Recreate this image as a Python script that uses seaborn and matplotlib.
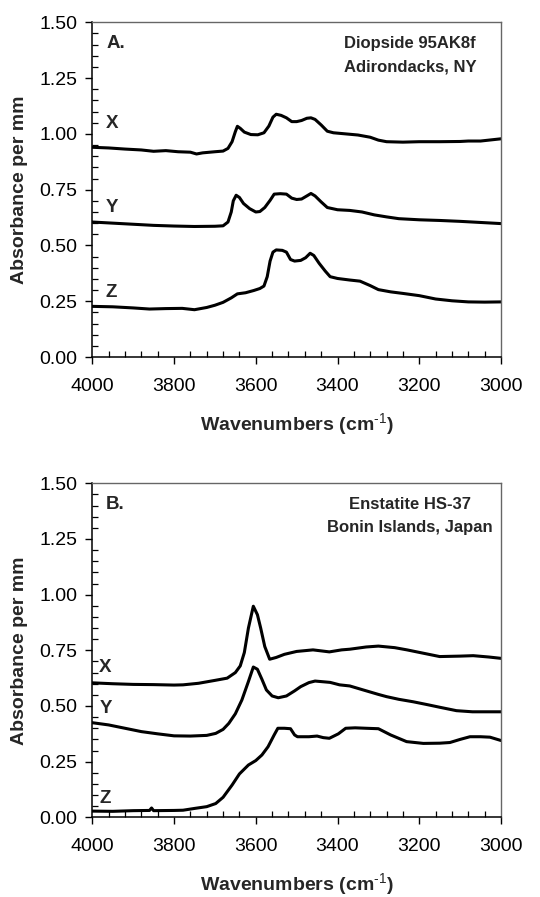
import matplotlib
matplotlib.use("Agg")
import matplotlib.pyplot as plt
from matplotlib.ticker import MultipleLocator, FormatStrFormatter
import seaborn as sns
import pandas as pd

# ---- Panel A: Diopside 95AK8f, polarized spectra ----
a_x_wn = [4000, 3960, 3920, 3880, 3850, 3820, 3790, 3760, 3745, 3730, 3700, 3680,
          3668, 3658, 3650, 3645, 3638, 3628, 3612, 3595, 3580, 3568, 3558, 3550,
          3538, 3525, 3512, 3500, 3488, 3475, 3465, 3455, 3440, 3425, 3410, 3380,
          3350, 3320, 3300, 3280, 3240, 3200, 3150, 3100, 3080, 3050, 3000]
a_x_abs = [0.940, 0.937, 0.932, 0.928, 0.922, 0.925, 0.920, 0.918, 0.910, 0.915, 0.920, 0.923,
           0.935, 0.965, 1.010, 1.034, 1.025, 1.008, 0.997, 0.996, 1.005, 1.035, 1.075, 1.088,
           1.083, 1.072, 1.055, 1.055, 1.060, 1.070, 1.072, 1.065, 1.040, 1.012, 1.005, 1.000,
           0.995, 0.985, 0.972, 0.965, 0.963, 0.965, 0.965, 0.966, 0.968, 0.968, 0.978]

a_y_wn = [4000, 3950, 3900, 3850, 3800, 3750, 3700, 3680, 3668, 3660, 3655, 3648,
          3640, 3630, 3615, 3600, 3590, 3578, 3565, 3555, 3540, 3525, 3512, 3500,
          3488, 3475, 3465, 3455, 3440, 3425, 3400, 3370, 3340, 3310, 3280, 3250,
          3200, 3150, 3100, 3050, 3000]
a_y_abs = [0.605, 0.600, 0.595, 0.590, 0.587, 0.585, 0.586, 0.588, 0.605, 0.650, 0.700, 0.725,
           0.715, 0.688, 0.665, 0.650, 0.652, 0.670, 0.702, 0.730, 0.732, 0.730, 0.712, 0.706,
           0.708, 0.722, 0.733, 0.722, 0.695, 0.670, 0.660, 0.657, 0.650, 0.637, 0.628, 0.620,
           0.615, 0.612, 0.608, 0.603, 0.598]

a_z_wn = [4000, 3950, 3900, 3860, 3820, 3780, 3750, 3720, 3700, 3680, 3660, 3645,
          3625, 3605, 3590, 3580, 3572, 3565, 3558, 3550, 3535, 3525, 3515, 3505,
          3490, 3478, 3467, 3458, 3445, 3430, 3418, 3400, 3370, 3345, 3320, 3300,
          3270, 3240, 3200, 3160, 3120, 3080, 3040, 3000]
a_z_abs = [0.227, 0.225, 0.220, 0.215, 0.217, 0.218, 0.212, 0.222, 0.232, 0.245, 0.265, 0.283,
           0.288, 0.298, 0.307, 0.318, 0.360, 0.430, 0.470, 0.480, 0.478, 0.470, 0.437, 0.430,
           0.433, 0.445, 0.465, 0.455, 0.420, 0.385, 0.360, 0.352, 0.345, 0.340, 0.320, 0.302,
           0.292, 0.285, 0.275, 0.260, 0.252, 0.247, 0.246, 0.247]

# ---- Panel B: Enstatite HS-37, polarized spectra ----
b_x_wn = [4000, 3950, 3900, 3850, 3800, 3778, 3740, 3700, 3670, 3650, 3638, 3628,
          3618, 3606, 3596, 3588, 3578, 3566, 3550, 3530, 3500, 3460, 3420, 3390,
          3370, 3330, 3300, 3260, 3230, 3190, 3150, 3100, 3068, 3030, 3000]
b_x_abs = [0.604, 0.600, 0.597, 0.596, 0.594, 0.595, 0.602, 0.615, 0.625, 0.650, 0.680, 0.740,
           0.850, 0.948, 0.910, 0.850, 0.767, 0.710, 0.718, 0.732, 0.745, 0.752, 0.743, 0.752,
           0.755, 0.765, 0.769, 0.762, 0.752, 0.737, 0.722, 0.724, 0.726, 0.720, 0.714]

b_y_wn = [4000, 3960, 3920, 3880, 3840, 3800, 3760, 3720, 3698, 3680, 3666, 3650,
          3634, 3618, 3606, 3596, 3585, 3574, 3560, 3545, 3525, 3505, 3490, 3470,
          3455, 3430, 3418, 3395, 3370, 3337, 3300, 3280, 3250, 3215, 3180, 3149,
          3109, 3070, 3000]
b_y_abs = [0.425, 0.415, 0.400, 0.385, 0.375, 0.366, 0.365, 0.368, 0.377, 0.395, 0.422, 0.465,
           0.527, 0.610, 0.675, 0.665, 0.620, 0.572, 0.545, 0.537, 0.545, 0.568, 0.587, 0.605,
           0.612, 0.608, 0.606, 0.595, 0.590, 0.572, 0.552, 0.542, 0.530, 0.519, 0.506, 0.494,
           0.479, 0.474, 0.474]

b_z_wn = [4000, 3950, 3900, 3860, 3855, 3850, 3800, 3778, 3750, 3720, 3698, 3680,
          3658, 3640, 3618, 3600, 3585, 3570, 3555, 3546, 3530, 3515, 3505, 3498,
          3470, 3450, 3435, 3420, 3398, 3380, 3357, 3330, 3300, 3270, 3231, 3190,
          3150, 3125, 3100, 3076, 3050, 3027, 3000]
b_z_abs = [0.028, 0.027, 0.030, 0.031, 0.042, 0.030, 0.031, 0.032, 0.040, 0.048, 0.062, 0.090,
           0.145, 0.195, 0.235, 0.255, 0.280, 0.317, 0.370, 0.400, 0.400, 0.398, 0.370, 0.362,
           0.362, 0.365, 0.358, 0.355, 0.375, 0.400, 0.402, 0.400, 0.398, 0.370, 0.340, 0.332,
           0.333, 0.336, 0.350, 0.362, 0.362, 0.360, 0.345]

directions = ["X", "Y", "Z"]
panel_a_labels = {"X": 1.048, "Y": 0.672, "Z": 0.287}
panel_b_labels = {"X": 0.674, "Y": 0.490, "Z": 0.085}
panel_tags = ["A.", "B."]
sample_names = [("Diopside 95AK8f", "Adirondacks, NY"),
                ("Enstatite HS-37", "Bonin Islands, Japan")]
y_ticks = [0.00, 0.25, 0.50, 0.75, 1.00, 1.25, 1.50]
x_ticks = [4000, 3800, 3600, 3400, 3200, 3000]

def long_frame(series):
    rows = []
    for name, wn, ab in series:
        for w, a in zip(wn, ab):
            rows.append({"direction": name, "wavenumber": w, "absorbance": a})
    return pd.DataFrame(rows)

df_a = long_frame([("X", a_x_wn, a_x_abs), ("Y", a_y_wn, a_y_abs), ("Z", a_z_wn, a_z_abs)])
df_b = long_frame([("X", b_x_wn, b_x_abs), ("Y", b_y_wn, b_y_abs), ("Z", b_z_wn, b_z_abs)])

sns.set_theme(style="ticks")
plt.rcParams["font.family"] = ["Liberation Sans", "DejaVu Sans"]
plt.rcParams["mathtext.fontset"] = "custom"
plt.rcParams["mathtext.rm"] = "Liberation Sans"
plt.rcParams["mathtext.bf"] = "Liberation Sans:bold"
plt.rcParams["axes.unicode_minus"] = False

fig = plt.figure(figsize=(5.4, 8.97), dpi=100)
ax_a = fig.add_axes([0.1709, 0.6020, 0.7569, 0.3731])
ax_b = fig.add_axes([0.1709, 0.0888, 0.7569, 0.3724])

for ax, df, labels, tag, names, lab_x in [
        (ax_a, df_a, panel_a_labels, panel_tags[0], sample_names[0], 3968),
        (ax_b, df_b, panel_b_labels, panel_tags[1], sample_names[1], 3983)]:
    sns.lineplot(data=df, x="wavenumber", y="absorbance", hue="direction",
                 palette={d: "black" for d in directions}, linewidth=2.2,
                 legend=False, ax=ax, estimator=None)
    ax.set_xlim(4000, 3000)
    ax.set_ylim(0, 1.5)
    ax.set_xticks(x_ticks)
    ax.set_yticks(y_ticks)
    ax.yaxis.set_major_formatter(FormatStrFormatter("%.2f"))
    ax.xaxis.set_minor_locator(MultipleLocator(40))
    ax.yaxis.set_minor_locator(MultipleLocator(0.05))
    ax.tick_params(which="major", direction="out", length=5, width=1.0,
                   color="black", labelsize=14, labelcolor="black")
    ax.tick_params(axis="x", which="major", pad=10)
    ax.tick_params(axis="y", which="major", pad=6)
    ax.tick_params(which="minor", direction="in", length=4, width=0.9, color="black")
    for side in ["left", "bottom"]:
        ax.spines[side].set_color("black")
        ax.spines[side].set_linewidth(1.1)
    for side in ["top", "right"]:
        ax.spines[side].set_visible(True)
        ax.spines[side].set_color("#666666")
        ax.spines[side].set_linewidth(1.0)
    ax.set_facecolor("white")

    ax.set_xlabel(r"Wavenumbers (cm$^{\text{-1}}$)", fontsize=14, fontweight="bold")
    ax.xaxis.label.set_va("center")
    ax.xaxis.set_label_coords(0.5, -0.203)
    ax.set_ylabel("Absorbance per mm", fontsize=14, fontweight="bold")
    ax.yaxis.label.set_va("center")
    ax.yaxis.set_label_coords(-0.179, 0.5)

    for d in directions:
        ax.text(lab_x, labels[d], d, fontsize=13.5, fontweight="bold",
                ha="left", va="center")
    ax.text(3966, 1.405, tag, fontsize=13.5, fontweight="bold", ha="left", va="center")
    ax.text(3222, 1.405, names[0], fontsize=12, fontweight="bold", ha="center", va="center")
    ax.text(3222, 1.300, names[1], fontsize=12, fontweight="bold", ha="center", va="center")

fig.savefig("out.png", dpi=100, facecolor="white")
